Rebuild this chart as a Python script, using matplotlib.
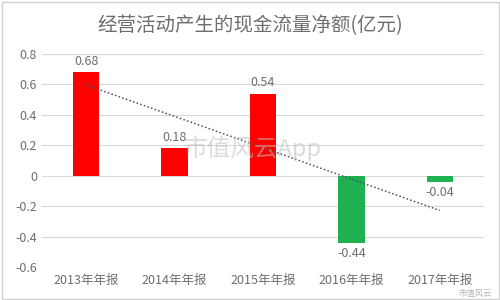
import numpy as np
import matplotlib.pyplot as plt

plt.rcParams['font.family'] = ['Noto Sans CJK SC', 'DejaVu Sans']

# données
annees = ['2013年年报', '2014年年报', '2015年年报', '2016年年报', '2017年年报']
valeurs = [0.68, 0.18, 0.54, -0.44, -0.04]
etiquettes = ['0.68', '0.18', '0.54', '-0.44', '-0.04']

gris = '#6e6e6e'
couleurs = ['#ff0000' if v > 0 else '#1fb050' for v in valeurs]

fig = plt.figure(figsize=(5, 3), dpi=100)
ax = fig.add_axes([0.084, 0.11, 0.884, 0.71])

x = np.arange(len(annees))
ax.bar(x, valeurs, width=0.3, color=couleurs, zorder=3)

# étiquettes de valeur
for xi, v, lab in zip(x, valeurs, etiquettes):
    if v >= 0:
        ax.text(xi, v + 0.03, lab, ha='center', va='bottom', fontsize=9, color=gris)
    else:
        ax.text(xi, v - 0.03, lab, ha='center', va='top', fontsize=9, color=gris)

# courbe de tendance linéaire
pente, origine = np.polyfit(x, valeurs, 1)
ax.plot(x, pente * x + origine, linestyle=(0, (1, 1.5)), color='#44546a', lw=1.1, zorder=4)

ax.set_xlim(-0.5, 4.5)
ax.set_ylim(-0.6, 0.8)
ax.set_yticks(np.arange(-0.6, 0.81, 0.2))
ax.set_yticklabels(['-0.6', '-0.4', '-0.2', '0', '0.2', '0.4', '0.6', '0.8'])
ax.set_xticks(x)
ax.set_xticklabels(annees)
ax.tick_params(axis='both', length=0, labelsize=9, labelcolor=gris)
ax.tick_params(axis='x', pad=5)
ax.grid(axis='y', color='#d9d9d9', lw=0.8, zorder=0)
for s in ax.spines.values():
    s.set_visible(False)

fig.text(0.5, 0.915, '经营活动产生的现金流量净额(亿元)', ha='center', va='center',
         fontsize=14, color=gris)

# filigrane
fig.text(0.506, 0.505, '市值风云App', ha='center', va='center', fontsize=17,
         color='#bfbfbf', alpha=0.55)
fig.text(0.95, 0.022, '市值风云', ha='center', va='center', fontsize=6,
         color='#a0a0a0', alpha=0.8)

fig.patches.append(plt.Rectangle((0.003, 0.005), 0.994, 0.99, transform=fig.transFigure,
                                 fill=False, edgecolor='#d0d0d0', lw=1))

fig.savefig('out.png', dpi=100)
